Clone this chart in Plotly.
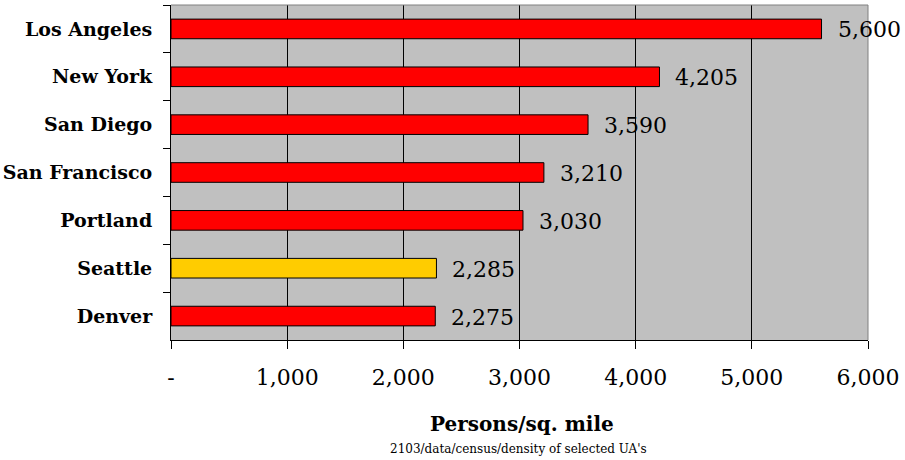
import plotly.graph_objects as go

# Urbanized-area population density, persons per square mile
cities = ["Los Angeles", "New York", "San Diego", "San Francisco", "Portland", "Seattle", "Denver"]
density = [5600, 4205, 3590, 3210, 3030, 2285, 2275]
bar_colors = ["#FF0000", "#FF0000", "#FF0000", "#FF0000", "#FF0000", "#FFCC00", "#FF0000"]

x_tick_vals = [0, 1000, 2000, 3000, 4000, 5000, 6000]
x_tick_text = ["-", "1,000", "2,000", "3,000", "4,000", "5,000", "6,000"]

SERIF = "DejaVu Serif"

fig = go.Figure()
fig.add_trace(go.Bar(
    y=cities,
    x=density,
    orientation="h",
    width=0.41,
    marker=dict(color=bar_colors, line=dict(color="black", width=1)),
    hoverinfo="x+y",
))

# value labels to the right of each bar
for city, v in zip(cities, density):
    fig.add_annotation(
        x=v, y=city, xref="x", yref="y",
        text=f"{v:,}", showarrow=False,
        xanchor="left", yanchor="middle", xshift=14, yshift=-1,
        font=dict(family=SERIF, size=22, color="black"),
    )

# axis title and source note
fig.add_annotation(
    x=0.504, y=-0.25, xref="paper", yref="paper",
    text="<b>Persons/sq. mile</b>", showarrow=False,
    xanchor="center", yanchor="middle",
    font=dict(family=SERIF, size=20, color="black"),
)
fig.add_annotation(
    x=0.4985, y=-0.325, xref="paper", yref="paper",
    text="2103/data/census/density of selected UA's", showarrow=False,
    xanchor="center", yanchor="middle",
    font=dict(family=SERIF, size=12, color="black"),
)

# grey frame on top and right edges of the plot area
fig.add_shape(type="line", xref="x domain", yref="y domain", x0=0, x1=1, y0=1, y1=1,
              line=dict(color="#808080", width=1), layer="above")
fig.add_shape(type="line", xref="x domain", yref="y domain", x0=1, x1=1, y0=0, y1=1,
              line=dict(color="#808080", width=1), layer="above")

fig.update_layout(
    width=905, height=460,
    margin=dict(l=171, r=37, t=5, b=120),
    paper_bgcolor="white",
    plot_bgcolor="#C0C0C0",
    showlegend=False,
    xaxis=dict(
        range=[0, 6000],
        tickvals=x_tick_vals, ticktext=x_tick_text,
        ticks="outside", ticklen=8, tickcolor="black", tickwidth=1,
        showgrid=True, gridcolor="black", gridwidth=1,
        zeroline=False,
        showline=True, linecolor="black", linewidth=1,
        tickfont=dict(family=SERIF, size=22, color="black"),
        ticklabelstandoff=10,
        automargin=False,
        fixedrange=True,
    ),
    yaxis=dict(
        categoryorder="array", categoryarray=cities,
        autorange="reversed",
        tickson="boundaries",
        ticks="outside", ticklen=7, tickcolor="black", tickwidth=1,
        showgrid=False, zeroline=False,
        showline=True, linecolor="black", linewidth=1,
        tickfont=dict(family=SERIF, size=19, color="black", weight="bold"),
        ticklabelstandoff=14,
        automargin=False,
        fixedrange=True,
    ),
)

fig.write_html("out.html")
